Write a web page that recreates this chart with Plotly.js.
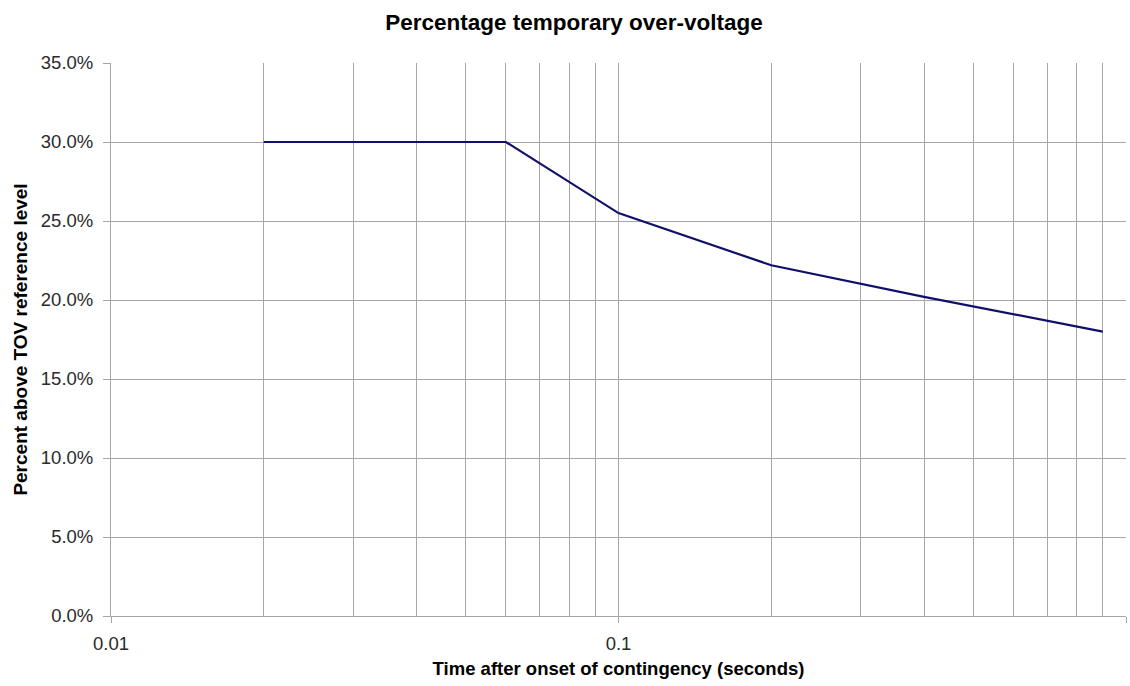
<!DOCTYPE html>
<html>
<head>
<meta charset="utf-8">
<script src="https://cdn.plot.ly/plotly-3.0.1.min.js"></script>
<style>html,body{margin:0;padding:0;background:#fff;}#chart{width:1130px;height:686px;}</style>
</head>
<body>
<div id="chart"></div>
<script>
// Data
const timeSeconds = [0.02, 0.06, 0.1, 0.2, 0.4, 0.9];
const percentAbove = [30.0, 30.0, 25.5, 22.2, 20.2, 18.0];
const xTickVals = [0.01, 0.1, 1];
const xTickText = ['0.01', '0.1', '1'];
const yTickVals = [0, 5, 10, 15, 20, 25, 30, 35];
const yTickText = ['0.0%', '5.0%', '10.0%', '15.0%', '20.0%', '25.0%', '30.0%', '35.0%'];

const FONT = 'Arial, "Liberation Sans", sans-serif';
const GRID = '#a6a6a6';

const trace = {
  x: timeSeconds,
  y: percentAbove,
  type: 'scatter',
  mode: 'lines',
  line: {color: '#10106a', width: 2.2},
  hoverinfo: 'x+y',
  showlegend: false
};

const layout = {
  width: 1130,
  height: 686,
  paper_bgcolor: '#ffffff',
  plot_bgcolor: '#ffffff',
  margin: {l: 111, r: 4, t: 63, b: 70},
  font: {family: FONT, color: '#2a2a2a', size: 18.5},
  title: {
    text: 'Percentage temporary over-voltage',
    font: {family: FONT, size: 22.5, color: '#000000', weight: 'bold'},
    x: 574 / 1130, xref: 'container', xanchor: 'center',
    y: 1 - 22 / 686, yref: 'container', yanchor: 'middle'
  },
  xaxis: {
    type: 'log',
    range: [-2, 0],
    tickmode: 'array',
    tickvals: xTickVals,
    ticktext: xTickText,
    ticks: 'outside',
    ticklen: 6,
    tickcolor: GRID,
    ticklabelstandoff: 5,
    showline: true,
    linecolor: GRID,
    linewidth: 1,
    showgrid: true,
    gridcolor: GRID,
    gridwidth: 1,
    zeroline: false,
    tickfont: {family: FONT, size: 18.5, color: '#2a2a2a'},
    minor: {dtick: 'D1', showgrid: true, gridcolor: GRID, gridwidth: 1, ticks: ''},
    title: {
      text: 'Time after onset of contingency (seconds)',
      font: {family: FONT, size: 18.5, color: '#000000', weight: 'bold'},
      standoff: 8
    },
    automargin: false,
    fixedrange: true
  },
  yaxis: {
    range: [0, 35],
    tickmode: 'array',
    tickvals: yTickVals,
    ticktext: yTickText,
    ticks: 'outside',
    ticklen: 7,
    tickcolor: GRID,
    ticklabelstandoff: 6,
    showline: true,
    linecolor: GRID,
    linewidth: 1,
    showgrid: true,
    gridcolor: GRID,
    gridwidth: 1,
    zeroline: false,
    tickfont: {family: FONT, size: 18.5, color: '#2a2a2a'},
    title: {
      text: 'Percent above TOV reference level',
      font: {family: FONT, size: 19, color: '#000000', weight: 'bold'},
      standoff: 8
    },
    automargin: false,
    fixedrange: true
  }
};

Plotly.newPlot('chart', [trace], layout, {displayModeBar: false});
</script>
</body>
</html>
